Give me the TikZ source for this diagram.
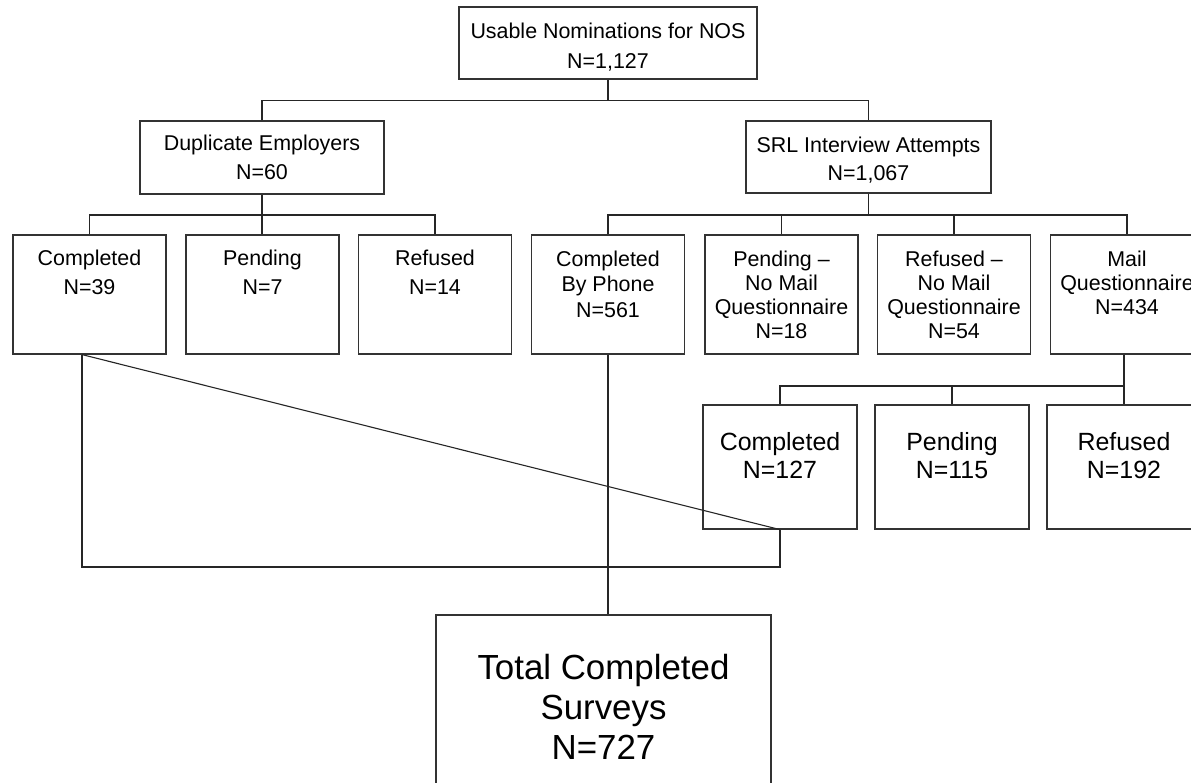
\documentclass[tikz,border=0pt]{standalone}
\usepackage{fontspec}
\setmainfont{Liberation Sans}
\newcommand\fsz[2]{\fontsize{#1}{#2}\selectfont}
\newcommand\mystrut[1]{\rule{0pt}{#1}}
\begin{document}
\begin{tikzpicture}[x=1bp,y=-1bp,
  box/.style={draw=black!80,line width=1.2bp,inner sep=0pt},
  wire/.style={draw=black!85,line width=1.1bp},
  lab/.style={anchor=north,inner sep=0pt,align=center,text=black},
  fa/.style={font=\fsz{21.5}{#1}},
  fb/.style={font=\fsz{25}{#1}},
  fc/.style={font=\fsz{35}{#1}},
  row/.style={box,minimum width=153bp,minimum height=119bp},
  sub/.style={box,minimum width=154bp,minimum height=124bp}
]
\useasboundingbox (0,0) rectangle (1191,783);
\clip (0,0) rectangle (1191,783);

% boxes
\node[box,minimum width=298bp,minimum height=72bp] (T) at (608,43) {};
\node[box,minimum width=244bp,minimum height=73bp] (D) at (262,157.5) {};
\node[box,minimum width=245bp,minimum height=72bp] (S) at (868.5,157) {};
\node[row] (c1) at (89.5,294.5) {};
\node[row] (p1) at (262.5,294.5) {};
\node[row] (r1) at (435,294.5) {};
\node[row] (cp) at (608,294.5) {};
\node[row] (pn) at (781.5,294.5) {};
\node[row] (rn) at (954,294.5) {};
\node[row] (mq) at (1127,294.5) {};
\node[sub] (C2) at (780,467) {};
\node[sub] (P2) at (952,467) {};
\node[sub] (R2) at (1124,467) {};
\node[box,minimum width=335bp,minimum height=186bp] (TOT) at (603.5,708) {};

% texts
\node[lab,fa=30] (Tt) at ([yshift=-14.7bp]T.north) {\mystrut{17bp}Usable Nominations for NOS\\N=1,127};
\node[lab,fa=29] (Dt) at ([yshift=-12.7bp]D.north) {\mystrut{17bp}Duplicate Employers\\N=60};
\node[lab,fa=28] (St) at ([yshift=-14.7bp]S.north) {\mystrut{17bp}SRL Interview Attempts\\N=1,067};
\node[lab,fa=29] (c1t) at ([yshift=-13.7bp]c1.north) {\mystrut{17bp}Completed\\N=39};
\node[lab,fa=29] (p1t) at ([yshift=-13.7bp]p1.north) {\mystrut{17bp}Pending\\N=7};
\node[lab,fa=29] (r1t) at ([yshift=-13.7bp]r1.north) {\mystrut{17bp}Refused\\N=14};
\node[lab,fa=25.5] (cpt) at ([yshift=-14.7bp]cp.north) {\mystrut{17bp}Completed\\By Phone\\N=561};
\node[lab,fa=24.3] (pnt) at ([yshift=-14.7bp]pn.north) {\mystrut{17bp}Pending --\\No Mail\\Questionnaire\\N=18};
\node[lab,fa=24.3] (rnt) at ([yshift=-14.7bp]rn.north) {\mystrut{17bp}Refused --\\No Mail\\Questionnaire\\N=54};
\node[lab,fa=24] (mqt) at ([yshift=-14.7bp]mq.north) {\mystrut{17bp}Mail\\Questionnaire\\N=434};
\node[lab,fb=28] (C2t) at ([yshift=-25.8bp]C2.north) {\mystrut{20.2bp}Completed\\N=127};
\node[lab,fb=28] (P2t) at ([yshift=-25.8bp]P2.north) {\mystrut{20.2bp}Pending\\N=115};
\node[lab,fb=28] (R2t) at ([yshift=-25.8bp]R2.north) {\mystrut{20.2bp}Refused\\N=192};
\node[lab,fc=40.5] (TOTt) at ([yshift=-36.6bp]TOT.north) {\mystrut{28bp}Total Completed\\Surveys\\N=727};

% connectors
\coordinate (bar1) at (608,100.5);
\coordinate (bar2) at (262,215);
\coordinate (bar3) at (868.5,215);
\coordinate (bar4) at (952,386);
\coordinate (lb) at (0,567);
\coordinate (lp) at ([xshift=-7.5bp]c1.south);

\draw[wire] (T.south) -- (T.south |- bar1);
\draw[wire] (D.north) |- (bar1) -| (S.north);

\draw[wire] (D.south) -- (D.south |- p1.north);
\draw[wire] (c1.north) |- (bar2) -| (r1.north);

\draw[wire] (S.south) -- (S.south |- bar3);
\draw[wire] (cp.north) |- (bar3) -| (mq.north);
\draw[wire] (pn.north) -- (pn.north |- bar3);
\draw[wire] (rn.north) -- (rn.north |- bar3);

\draw[wire] (mq.south -| R2.north) -- (R2.north);
\draw[wire] (C2.north) |- (bar4) -| (R2.north);
\draw[wire] (P2.north) -- (P2.north |- bar4);

\draw[wire] (lp) -- (C2.south);
\draw[wire] (lp) |- (lb -| C2.south) -- (C2.south);
\draw[wire] (cp.south) -- (cp.south |- TOT.north);
\end{tikzpicture}
\end{document}
